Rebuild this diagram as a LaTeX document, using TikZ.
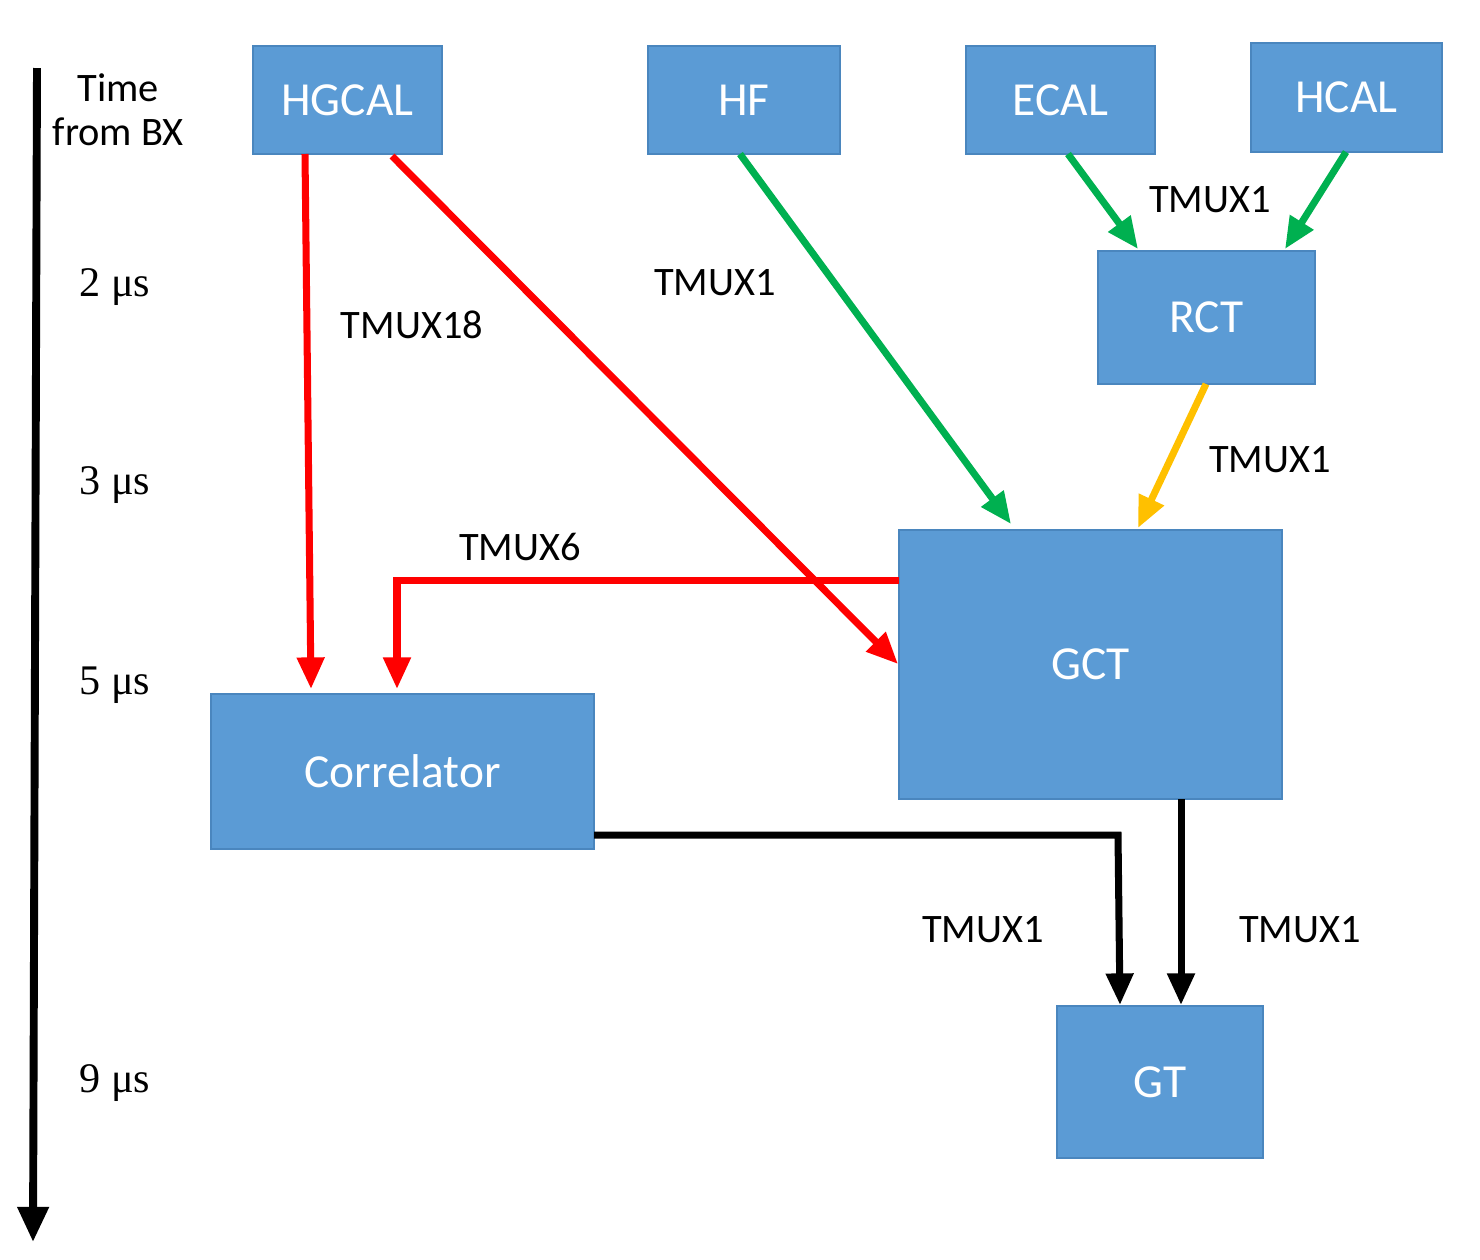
\documentclass[tikz,border=0pt]{standalone}
\usepackage{fontspec}
\setmainfont{Liberation Serif}
\newfontfamily\cf{Carlito}
\usetikzlibrary{arrows.meta}
\definecolor{boxblue}{HTML}{5B9BD5}
\definecolor{boxedge}{HTML}{4A86BE}
\definecolor{ared}{HTML}{FF0000}
\definecolor{agreen}{HTML}{00B050}
\definecolor{aorange}{HTML}{FFC000}
\begin{document}
\begin{tikzpicture}[x=0.02cm,y=-0.02cm,
  box/.style={draw=boxedge,line width=1pt,fill=boxblue,text=white,font=\cf\fontsize{27}{30}\selectfont,inner sep=0pt},
  lab/.style={font=\cf\fontsize{23}{26}\selectfont},
  tl/.style={font=\fontsize{24}{26}\selectfont},
  arr/.style={line width=4pt,-{Triangle[length=18pt,width=15pt]}}]
\useasboundingbox (0,0) rectangle (1480,1259);
\node[box,minimum width=3.78cm,minimum height=2.16cm] (hgcal) at (347.5,100) {HGCAL};
\node[box,minimum width=3.84cm,minimum height=2.16cm] (hf) at (744,100) {HF};
\node[box,minimum width=3.78cm,minimum height=2.16cm] (ecal) at (1060.5,100) {ECAL};
\node[box,minimum width=3.82cm,minimum height=2.18cm] (hcal) at (1346.5,97.5) {HCAL};
\node[box,minimum width=4.34cm,minimum height=2.66cm] (rct) at (1206.5,317.5) {RCT};
\node[box,minimum width=7.66cm,minimum height=5.38cm] (gct) at (1090.5,664.5) {GCT};
\node[box,minimum width=7.66cm,minimum height=3.1cm] (corr) at (402.5,771.5) {Correlator};
\node[box,minimum width=4.12cm,minimum height=3.04cm] (gt) at (1160,1082) {GT};
% time axis
\coordinate (t0) at (37,68);
\coordinate (t1) at (33,1242);
\draw[line width=4.5pt,-{Triangle[length=20pt,width=17pt]}] (t0) -- (t1);
\node[font=\cf\fontsize{23}{25}\selectfont,align=center] (time) at (118,110) {Time\\from BX};
\node[tl] (t2) at (115,287) {2 μs};
\node[tl] (t3) at (115,485) {3 μs};
\node[tl] (t5) at (115,685) {5 μs};
\node[tl] (t9) at (115,1083) {9 μs};
% connector end points on the boxes
\coordinate (hg1) at (305,154);
\coordinate (hg2) at (392,156);
\coordinate (co1) at (311,689);
\coordinate (co2) at (397,689);
\coordinate (gcl) at (899,580);
\coordinate (gcl2) at (898,664);
\coordinate (bend6) at (397,580);
\coordinate (hfb) at (740,154);
\coordinate (gct1) at (1011,524);
\coordinate (ecb) at (1068,154);
\coordinate (hcb) at (1346,152);
\coordinate (rct1) at (1138,249);
\coordinate (rct2) at (1285,249);
\coordinate (rctb) at (1206,384);
\coordinate (gct2) at (1138,528);
\coordinate (cor) at (594,835);
\coordinate (bendc) at (1118,835);
\coordinate (gt1) at (1120,1005);
\coordinate (gctb) at (1181,799);
\coordinate (gt2) at (1181,1005);
% red
\draw[arr,ared] (hg1) -- (co1);
\draw[arr,ared] (hg2) -- (gcl2);
\draw[arr,ared] (gcl) -- (bend6) -- (co2);
% green / orange
\draw[arr,agreen] (hfb) -- (gct1);
\draw[arr,agreen] (ecb) -- (rct1);
\draw[arr,agreen] (hcb) -- (rct2);
\draw[arr,aorange] (rctb) -- (gct2);
% black
\draw[arr,black] (cor) -- (bendc) -- (gt1);
\draw[arr,black] (gctb) -- (gt2);
% labels
\node[lab] (l18) at (412,325) {TMUX18};
\node[lab] (lhf) at (715,283) {TMUX1};
\node[lab] (lrct) at (1210,200) {TMUX1};
\node[lab] (lor) at (1270,460) {TMUX1};
\node[lab] (l6) at (520,547) {TMUX6};
\node[lab] (lc) at (983,930) {TMUX1};
\node[lab] (lg) at (1300,930) {TMUX1};
\end{tikzpicture}
\end{document}
